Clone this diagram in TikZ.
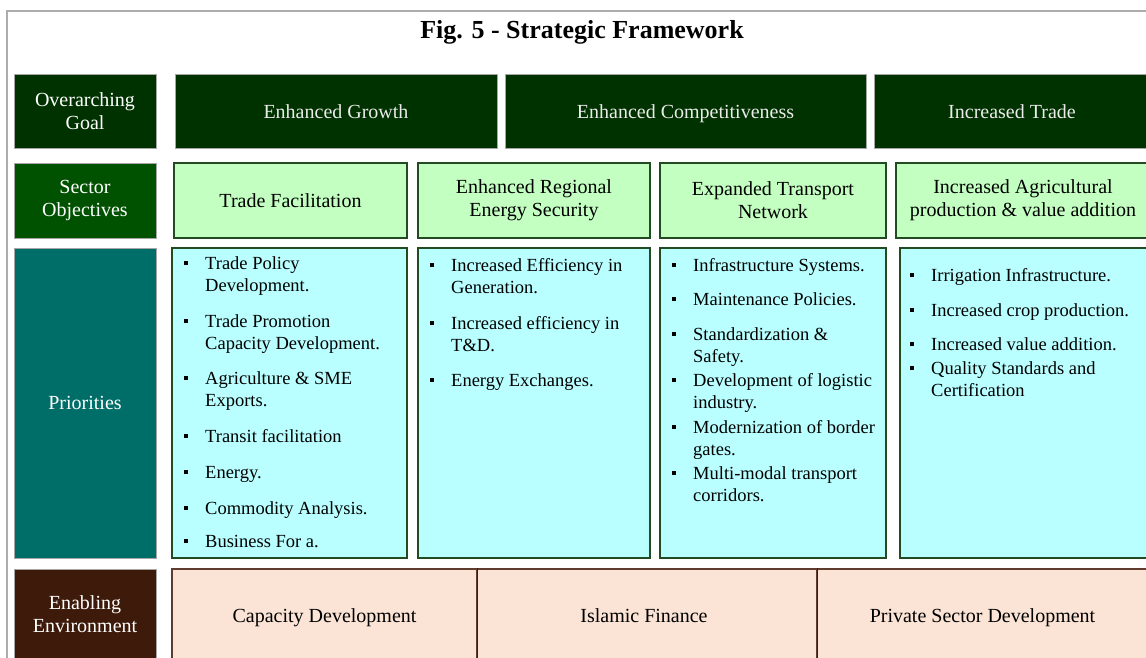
\documentclass[tikz,border=0pt]{standalone}
\usepackage{fontspec}
\setmainfont{Liberation Serif}
\definecolor{goaldark}{RGB}{0,50,0}
\definecolor{sectdark}{RGB}{0,82,0}
\definecolor{objfill}{RGB}{196,255,194}
\definecolor{priodark}{RGB}{0,110,104}
\definecolor{priofill}{RGB}{185,255,255}
\definecolor{envdark}{RGB}{61,26,10}
\definecolor{envfill}{RGB}{251,228,213}
\definecolor{boxline}{RGB}{35,75,35}
\definecolor{envline}{RGB}{95,60,45}
\newcommand{\pbul}{\llap{\rule[4pt]{4pt}{4pt}\hspace{17.5pt}}}
\tikzset{
    rowlabel/.style={draw=gray!70, line width=1pt, text=white, align=center,
        minimum width=142, font=\fontsize{20}{23}\selectfont},
    goalbox/.style={draw=gray!70, fill=goaldark, text=white!92!black, line width=1pt,
        minimum height=74, text height=16pt, text depth=2pt,
        font=\fontsize{20}{23}\selectfont},
    objbox/.style={draw=boxline, fill=objfill, line width=1.5pt, align=center,
        minimum height=75, font=\fontsize{20}{23}\selectfont},
    priobox/.style={draw=boxline, fill=priofill, line width=1.5pt, minimum height=310},
    envbox/.style={draw=envline, fill=envfill, line width=1.3pt, minimum height=100},
    envtext/.style={text height=14pt, text depth=4pt, font=\fontsize{20}{23}\selectfont},
    prio/.style={anchor=north west, inner sep=0pt, align=left,
        font=\fontsize{18.5}{22.5}\selectfont}
}
\begin{document}
\begin{tikzpicture}[x=1pt, y=-1pt]
    \useasboundingbox[fill=white] (0,0) rectangle (1146,657);
    \clip (0,0) rectangle (1146,657);
    % outer frame
    \draw[gray!65, line width=2pt] (7,700) -- (7,11) -- (1200,11);
    \node[font=\fontsize{26}{30}\selectfont\bfseries] (title) at (582,32) {Fig. 5 - Strategic Framework};

    % row labels
    \node[rowlabel, fill=goaldark, minimum height=74] (goal) at (85,111) {Overarching\\Goal};
    \node[rowlabel, fill=sectdark, minimum height=75] (sector) at (85,200.5) {Sector\\Objectives};
    \node[rowlabel, fill=priodark, minimum height=310] (prios) at (85,403) {Priorities};
    \node[rowlabel, fill=envdark, minimum height=91] (enabling) at (85,614.5) {Enabling\\Environment};

    % overarching goals
    \node[goalbox, minimum width=322] (growth) at (336,111) {Enhanced Growth};
    \node[goalbox, minimum width=361] (compet) at (685.5,111) {Enhanced Competitiveness};
    \node[goalbox, minimum width=276] (trade) at (1012,111) {Increased Trade};

    % sector objectives
    \node[objbox, minimum width=233] (facil) at (290.5,200.5) {Trade Facilitation};
    \node[objbox, minimum width=232] (energy) at (534,200.5) {Enhanced Regional\\Energy Security};
    \node[objbox, minimum width=226] (transp) at (773,200.5) {Expanded Transport\\Network};
    \node[objbox, minimum width=254] (agri) at (1023,200.5) {Increased Agricultural\\production \& value addition};

    % priorities
    \node[priobox, minimum width=235] (pfacil) at (289.5,403) {};
    \node[priobox, minimum width=232] (penergy) at (534,403) {};
    \node[priobox, minimum width=226] (ptransp) at (773,403) {};
    \node[priobox, minimum width=260] (pagri) at (1030,403) {};

    \node[prio] (pf1) at (205,256) {\pbul Trade Policy\\Development.};
    \node[prio] (pf2) at (205,314) {\pbul Trade Promotion\\Capacity Development.};
    \node[prio] (pf3) at (205,371) {\pbul Agriculture \& SME\\Exports.};
    \node[prio] (pf4) at (205,429) {\pbul Transit facilitation};
    \node[prio] (pf5) at (205,466) {\pbul Energy.};
    \node[prio] (pf6) at (205,501) {\pbul Commodity Analysis.};
    \node[prio] (pf7) at (205,535) {\pbul Business For a.};

    \node[prio] (pe1) at (451,258) {\pbul Increased Efficiency in\\Generation.};
    \node[prio] (pe2) at (451,316) {\pbul Increased efficiency in\\T\&D.};
    \node[prio] (pe3) at (451,373) {\pbul Energy Exchanges.};

    \node[prio] (pt1) at (693,258) {\pbul Infrastructure Systems.};
    \node[prio] (pt2) at (693,292) {\pbul Maintenance Policies.};
    \node[prio] (pt3) at (693,327) {\pbul Standardization \&\\Safety.};
    \node[prio] (pt4) at (693,373) {\pbul Development of logistic\\industry.};
    \node[prio] (pt5) at (693,420) {\pbul Modernization of border\\gates.};
    \node[prio] (pt6) at (693,466) {\pbul Multi-modal transport\\corridors.};

    \node[prio] (pa1) at (931,268) {\pbul Irrigation Infrastructure.};
    \node[prio] (pa2) at (931,303) {\pbul Increased crop production.};
    \node[prio] (pa3) at (931,337) {\pbul Increased value addition.};
    \node[prio] (pa4) at (931,361) {\pbul Quality Standards and\\Certification};

    % enabling environment
    \node[envbox, minimum width=305] (capdev) at (324.5,619) {};
    \node[envbox, minimum width=340] (islfin) at (647,619) {};
    \node[envbox, minimum width=331] (privsec) at (982.5,619) {};
    \node[envtext] (capdevt) at (324.5,617) {Capacity Development};
    \node[envtext] (islfint) at (644,617) {Islamic Finance};
    \node[envtext] (privsect) at (982.5,617) {Private Sector Development};
    \draw[envdark, line width=1.3pt] (capdev.north east) -- (capdev.south east);
    \draw[envdark, line width=1.3pt] (islfin.north east) -- (islfin.south east);
\end{tikzpicture}
\end{document}
